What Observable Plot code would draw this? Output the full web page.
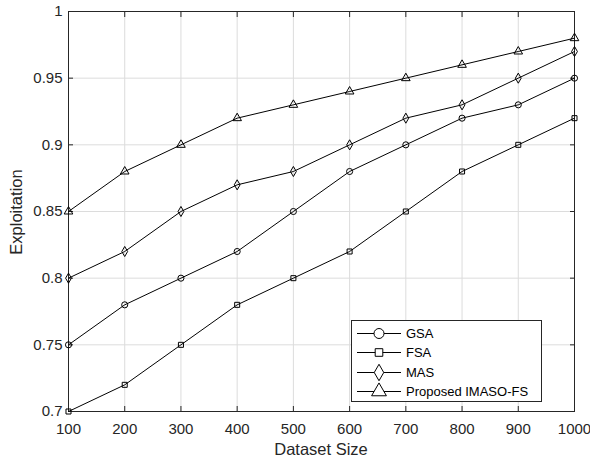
<!DOCTYPE html>
<html><head><meta charset="utf-8">
<script src="https://cdn.jsdelivr.net/npm/d3@7"></script>
<script src="https://cdn.jsdelivr.net/npm/@observablehq/plot@0.6"></script>
<style>
body{margin:0;background:#fff;font-family:"Liberation Sans",Arial,sans-serif;}
#wrap{position:relative;width:590px;height:461px;}
#legend{position:absolute;left:351px;top:320px;width:191px;height:82px;border:1px solid #262626;background:#fff;box-sizing:border-box;font-size:13px;color:#000;}
#legend .row{position:absolute;left:0;height:19px;display:flex;align-items:center;}
#legend svg{display:block}
</style></head>
<body><div id="wrap"><div id="chart"></div><div id="legend"></div></div>
<script>
const sizes = [100,200,300,400,500,600,700,800,900,1000];
const seriesNames = ["GSA","FSA","MAS","Proposed IMASO-FS"];
const gsa = [0.75,0.78,0.80,0.82,0.85,0.88,0.90,0.92,0.93,0.95];
const fsa = [0.70,0.72,0.75,0.78,0.80,0.82,0.85,0.88,0.90,0.92];
const mas = [0.80,0.82,0.85,0.87,0.88,0.90,0.92,0.93,0.95,0.97];
const imaso = [0.85,0.88,0.90,0.92,0.93,0.94,0.95,0.96,0.97,0.98];
const symbols = ["circle","square","diamond","triangle"];
const xTicks = [100,200,300,400,500,600,700,800,900,1000];
const yTicks = [0.7,0.75,0.8,0.85,0.9,0.95,1];

const allSeries = [gsa,fsa,mas,imaso];
const data = [];
allSeries.forEach((vals,i)=>vals.forEach((v,j)=>data.push({x:sizes[j],y:v,s:seriesNames[i],sym:symbols[i]})));
const symR = s => s==="circle"?5:(s==="square"?4.3:(s==="triangle"?5.5:5));

const ink = "#262626";
const plot = Plot.plot({
  width:590, height:461,
  marginLeft:68, marginRight:16, marginTop:11, marginBottom:50,
  style:{fontFamily:"'Liberation Sans',Arial,sans-serif", fontSize:"15px", color:ink, background:"#fff"},
  x:{domain:[100,1000]},
  y:{domain:[0.7,1]},
  marks:[
    Plot.gridX(xTicks,{stroke:"#dcdcdc", strokeOpacity:1}),
    Plot.gridY(yTicks,{stroke:"#dcdcdc", strokeOpacity:1}),
    Plot.frame({stroke:ink, strokeWidth:1}),
    Plot.axisX(xTicks,{anchor:"bottom", tickSize:0, tickPadding:12, tickFormat:d=>String(d), label:null, fontSize:15}),
    Plot.axisX(xTicks,{anchor:"bottom", tickSize:-5, tickFormat:()=>"", label:null, stroke:ink}),
    Plot.axisX(xTicks,{anchor:"top", tickSize:-5, tickFormat:()=>"", label:null, stroke:ink}),
    Plot.axisY(yTicks,{anchor:"left", tickSize:0, tickPadding:6, tickFormat:d=>String(d), label:null, fontSize:15}),
    Plot.axisY(yTicks,{anchor:"left", tickSize:-5, tickFormat:()=>"", label:null, stroke:ink}),
    Plot.axisY(yTicks,{anchor:"right", tickSize:-5, tickFormat:()=>"", label:null, stroke:ink}),
    Plot.line(data,{x:"x", y:"y", z:"s", stroke:"#000", strokeWidth:1}),
    Plot.dot(data,{x:"x", y:"y", symbol:"sym", r:d=>symR(d.sym), stroke:"#000", fill:"none", strokeWidth:1})
  ]
});
document.getElementById("chart").appendChild(plot);
const svg = d3.select(plot);
svg.append("text").attr("x", 68+(590-68-16)/2).attr("y", 455).attr("text-anchor","middle")
  .attr("font-size",16.5).attr("fill",ink).text("Dataset Size");
svg.append("text").attr("transform","translate(22,212) rotate(-90)").attr("text-anchor","middle")
  .attr("font-size",16.5).attr("fill",ink).text("Exploitation");

// legend
const leg = d3.select("#legend");
const symMap = {circle:d3.symbolCircle, square:d3.symbolSquare, diamond:d3.symbolDiamond, triangle:d3.symbolTriangle};
seriesNames.forEach((name,i)=>{
  const row = leg.append("div").attr("class","row").style("top",(3+i*19.3)+"px");
  const s = row.append("svg").attr("width",54).attr("height",19);
  s.append("line").attr("x1",5).attr("x2",49).attr("y1",9.5).attr("y2",9.5).attr("stroke","#000");
  const r = symR(symbols[i]);
  s.append("path").attr("transform","translate(27,9.5)")
   .attr("d", d3.symbol(symMap[symbols[i]], Math.PI*r*r)()).attr("fill","#fff").attr("stroke","#000");
  row.append("span").text(name);
});
</script></body></html>
